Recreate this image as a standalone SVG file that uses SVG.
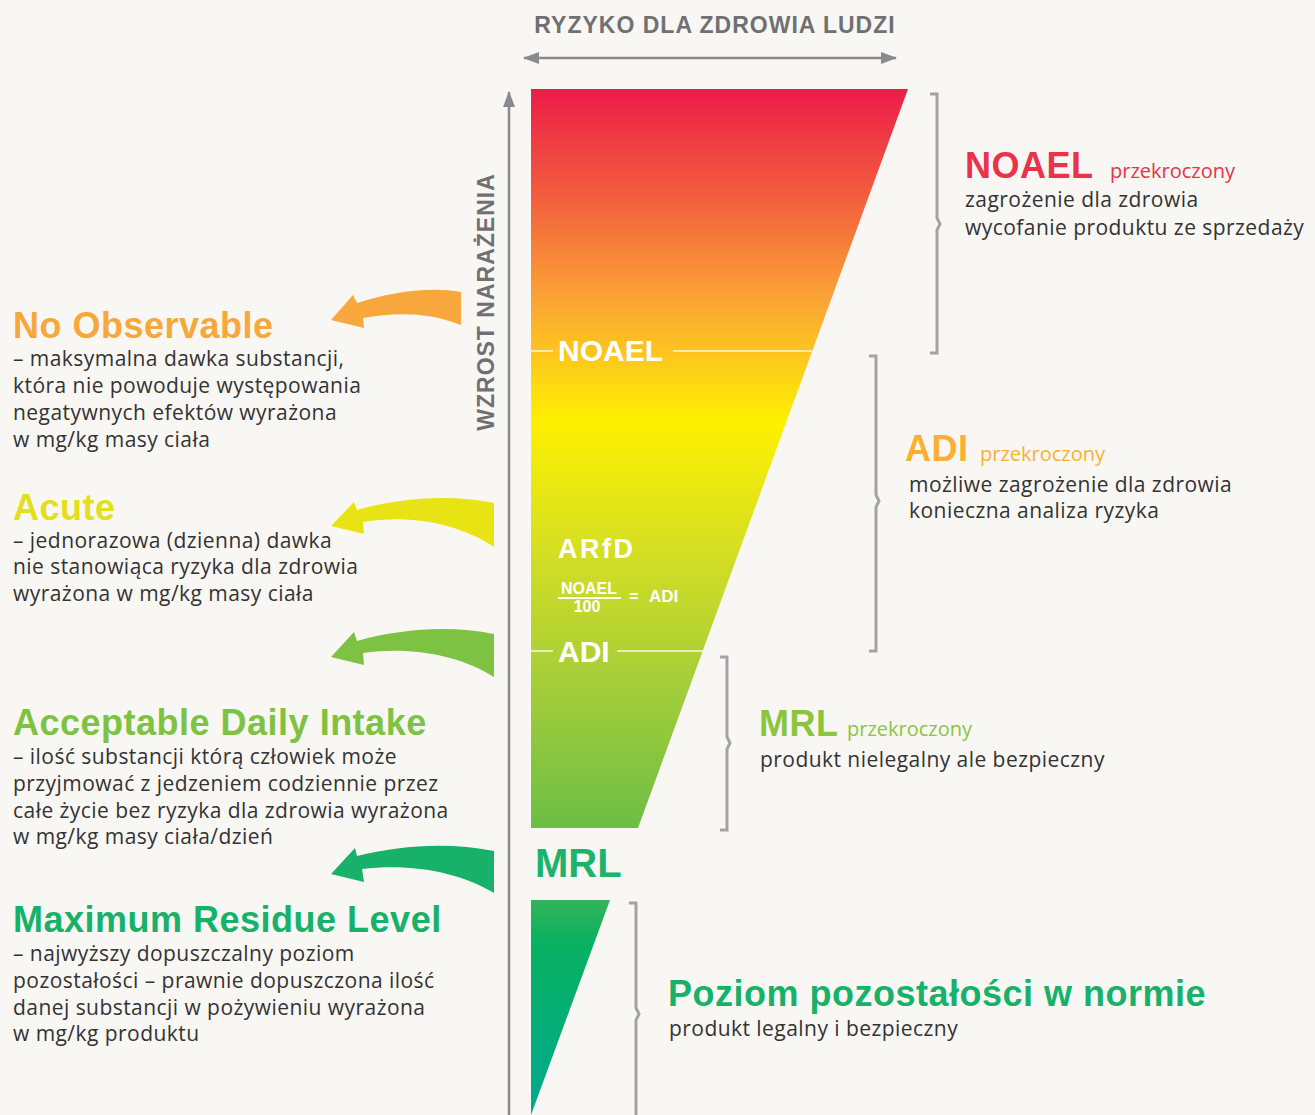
<svg xmlns="http://www.w3.org/2000/svg" width="1315" height="1115" viewBox="0 0 1315 1115">
  <defs>
    <linearGradient id="riskGrad" gradientUnits="userSpaceOnUse" x1="0" y1="89" x2="0" y2="828">
      <stop offset="0" stop-color="#ec1c48"/>
      <stop offset="0.15" stop-color="#f3603d"/>
      <stop offset="0.29" stop-color="#fba734"/>
      <stop offset="0.45" stop-color="#fff000"/>
      <stop offset="0.62" stop-color="#d6df22"/>
      <stop offset="0.8" stop-color="#a6ce39"/>
      <stop offset="1" stop-color="#6cbe45"/>
    </linearGradient>
    <linearGradient id="safeGrad" gradientUnits="userSpaceOnUse" x1="0" y1="900" x2="0" y2="1115">
      <stop offset="0" stop-color="#34b45a"/>
      <stop offset="0.2" stop-color="#08b160"/>
      <stop offset="1" stop-color="#00a98f"/>
    </linearGradient>
    <marker id="axisHead" viewBox="0 0 16 12" refX="15" refY="6" markerWidth="16" markerHeight="12" markerUnits="userSpaceOnUse" orient="auto-start-reverse">
      <path d="M0,0 L16,6 L0,12 Z" fill="#8a8a8d"/>
    </marker>
  </defs>
  <style>
    .axis { stroke: #8a8a8d; stroke-width: 2.5; fill: none; }
    .axisLabel { font-family: "Liberation Sans", Arial, sans-serif; font-weight: bold; font-size: 23px; letter-spacing: 1px; fill: #707073; }
    .bracket { stroke: #a3a3a7; stroke-width: 3; fill: none; }
    .level { stroke: #ffffff; stroke-opacity: 0.85; stroke-width: 1.5; }
    .inner { font-family: "Liberation Sans", Arial, sans-serif; font-weight: bold; fill: #ffffff; }
    .head { font-family: "Liberation Sans", Arial, sans-serif; font-weight: bold; font-size: 36px; letter-spacing: 0.5px; }
    .sub { font-family: "Open Sans", "Liberation Sans", sans-serif; font-size: 20px; }
    .body { font-family: "Open Sans", "Liberation Sans", sans-serif; font-size: 21px; letter-spacing: 0.45px; fill: #333333; }
  </style>

  <rect width="1315" height="1115" fill="#f9f7f3"/>

  <!-- axes -->
  <g id="axes">
    <line class="axis" x1="524" y1="58" x2="896" y2="58" marker-start="url(#axisHead)" marker-end="url(#axisHead)"/>
    <text class="axisLabel" x="715" y="33" text-anchor="middle">RYZYKO DLA ZDROWIA LUDZI</text>
    <line class="axis" x1="509" y1="1115" x2="509" y2="92" marker-end="url(#axisHead)"/>
    <text class="axisLabel" transform="translate(494,302) rotate(-90)" text-anchor="middle">WZROST NARAŻENIA</text>
  </g>

  <!-- risk wedge -->
  <g id="risk-wedge">
    <path d="M531,89 L908,89 L638,828 L531,828 Z" fill="url(#riskGrad)"/>
    <line class="level" x1="531" y1="351" x2="553" y2="351"/>
    <line class="level" x1="673" y1="351" x2="812" y2="351"/>
    <text class="inner" x="558" y="361" font-size="30">NOAEL</text>
    <text class="inner" x="558" y="558" font-size="27" letter-spacing="2.5">ARfD</text>
    <text class="inner" x="589" y="594" font-size="16" text-anchor="middle">NOAEL</text>
    <line x1="558" y1="598" x2="621" y2="598" stroke="#ffffff" stroke-width="1.8"/>
    <text class="inner" x="587" y="612" font-size="16" text-anchor="middle">100</text>
    <text class="inner" x="629" y="602" font-size="16">=</text>
    <text class="inner" x="649" y="602" font-size="17">ADI</text>
    <line class="level" x1="531" y1="651" x2="553" y2="651"/>
    <line class="level" x1="617" y1="651" x2="703" y2="651"/>
    <text class="inner" x="558" y="662" font-size="30">ADI</text>
  </g>

  <g id="mrl-label">
    <text x="535" y="877" font-family="Liberation Sans, Arial, sans-serif" font-weight="bold" font-size="40" fill="#1db36a">MRL</text>
  </g>

  <!-- safe wedge -->
  <g id="safe-wedge">
    <path d="M531,900 L610,900 L531,1115 Z" fill="url(#safeGrad)"/>
  </g>

  <!-- curved arrows pointing at the definitions -->
  <g id="connectors">
    <path fill="#f8a73c" d="M331,320 L353,295 L357,303 C390,292 430,286 461,292 L461,325 C430,312 395,312 363,318 L364,328 Z"/>
    <path fill="#e8e414" d="M331,526 L354,502 L357,510 C400,498 450,494 494,503 L494,547 C460,524 410,514 363,522 L364,534 Z"/>
    <path fill="#7dc242" d="M331,657 L354,632 L357,641 C400,629 450,625 494,634 L494,677 C460,655 410,646 363,653 L364,665 Z"/>
    <path fill="#17b169" d="M331,874 L355,848 L357,856 C400,845 450,842 494,851 L494,893 C460,872 410,863 362,869 L364,882 Z"/>
  </g>

  <!-- left definitions -->
  <g id="def-noael">
    <text class="head" x="13" y="338" fill="#f8a73c">No Observable</text>
    <text class="body" x="13" y="366">– maksymalna dawka substancji,</text>
    <text class="body" x="13" y="393">która nie powoduje występowania</text>
    <text class="body" x="13" y="420">negatywnych efektów wyrażona</text>
    <text class="body" x="13" y="447">w mg/kg masy ciała</text>
  </g>
  <g id="def-arfd">
    <text class="head" x="13" y="520" fill="#e3df1c">Acute</text>
    <text class="body" x="13" y="548">– jednorazowa (dzienna) dawka</text>
    <text class="body" x="13" y="574">nie stanowiąca ryzyka dla zdrowia</text>
    <text class="body" x="13" y="601">wyrażona w mg/kg masy ciała</text>
  </g>
  <g id="def-adi">
    <text class="head" x="13" y="735" fill="#7dc242">Acceptable Daily Intake</text>
    <text class="body" x="13" y="764">– ilość substancji którą człowiek może</text>
    <text class="body" x="13" y="791">przyjmować z jedzeniem codziennie przez</text>
    <text class="body" x="13" y="818">całe życie bez ryzyka dla zdrowia wyrażona</text>
    <text class="body" x="13" y="844">w mg/kg masy ciała/dzień</text>
  </g>
  <g id="def-mrl">
    <text class="head" x="13" y="932" fill="#17b169">Maximum Residue Level</text>
    <text class="body" x="13" y="961">– najwyższy dopuszczalny poziom</text>
    <text class="body" x="13" y="988">pozostałości – prawnie dopuszczona ilość</text>
    <text class="body" x="13" y="1015">danej substancji w pożywieniu wyrażona</text>
    <text class="body" x="13" y="1041">w mg/kg produktu</text>
  </g>

  <!-- right brackets and outcomes -->
  <g id="zone-noael">
    <path class="bracket" d="M930,94 H937 V218 L940,224 L937,230 V353 H930"/>
    <text class="head" x="965" y="178" fill="#e8334a" font-size="38">NOAEL</text>
    <text class="sub" x="1110" y="178" fill="#e8334a">przekroczony</text>
    <text class="body" x="965" y="207">zagrożenie dla zdrowia</text>
    <text class="body" x="965" y="235">wycofanie produktu ze sprzedaży</text>
  </g>
  <g id="zone-adi">
    <path class="bracket" d="M869,356 H876 V495 L879,501 L876,507 V651 H869"/>
    <text class="head" x="905" y="461" fill="#fbb034" font-size="38">ADI</text>
    <text class="sub" x="980" y="461" fill="#fbb034">przekroczony</text>
    <text class="body" x="909" y="492">możliwe zagrożenie dla zdrowia</text>
    <text class="body" x="909" y="518">konieczna analiza ryzyka</text>
  </g>
  <g id="zone-mrl">
    <path class="bracket" d="M720,657 H727 V737 L730,743 L727,749 V830 H720"/>
    <text class="head" x="759" y="736" fill="#8bc53f" font-size="37">MRL</text>
    <text class="sub" x="847" y="736" fill="#8bc53f">przekroczony</text>
    <text class="body" x="760" y="767">produkt nielegalny ale bezpieczny</text>
  </g>
  <g id="zone-normal">
    <path class="bracket" d="M629,903 H636 V1008 L639,1014 L636,1020 V1115"/>
    <text class="head" x="668" y="1006" fill="#17b169">Poziom pozostałości w normie</text>
    <text class="body" x="669" y="1036">produkt legalny i bezpieczny</text>
  </g>
</svg>
